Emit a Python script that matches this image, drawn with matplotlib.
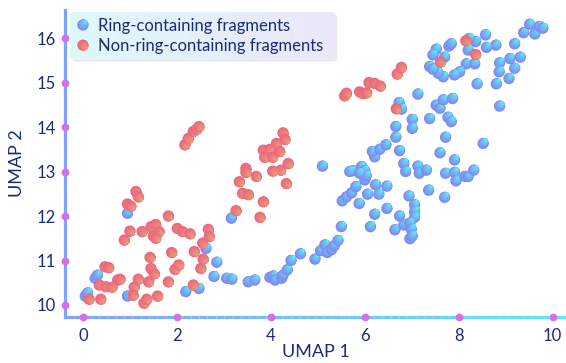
import numpy as np
import matplotlib
matplotlib.use("Agg")
import matplotlib.pyplot as plt
from matplotlib.path import Path
from matplotlib.collections import LineCollection, PathCollection
from matplotlib.legend_handler import HandlerBase
from matplotlib.colors import to_rgb
from matplotlib.patches import FancyBboxPatch
from matplotlib.transforms import IdentityTransform

plt.rcParams['font.family'] = ['Lato', 'DejaVu Sans']

# ring-containing fragments (UMAP 1, UMAP 2)
ring_x = [0.05, 0.10, 0.26, 0.31, 0.95, 0.95, 2.19, 2.47, 2.62, 2.85, 2.79, 3.06, 3.17, 3.16,
          3.52, 3.66, 3.98, 4.05, 4.09, 4.23, 4.26, 4.35, 4.43, 4.63, 4.94, 5.06, 5.15, 5.20,
          5.29, 5.35, 5.43, 5.50, 5.52, 5.61, 5.72, 5.81, 6.00, 5.88, 6.06, 6.23, 6.30, 6.47,
          6.21, 6.12, 6.47, 6.64, 6.74, 6.83, 6.94, 6.96,
          5.10, 5.75, 5.93, 6.00, 6.03, 5.89, 5.68, 6.21, 6.16, 6.32, 6.45, 6.74, 6.83, 6.87,
          7.13, 7.16, 7.31, 6.66, 6.66, 6.73, 6.78, 7.01, 7.01, 7.13, 7.38, 7.38,
          7.52, 7.60, 7.67, 7.87, 7.77, 7.84, 8.39, 8.80, 8.87, 9.07, 9.19, 8.87, 8.86, 9.09,
          9.31, 9.19, 8.79, 8.59, 8.57, 8.36, 8.22, 8.20, 8.16, 8.34, 8.02, 7.91, 7.67, 7.56,
          7.45, 7.70, 7.52, 7.45, 7.79, 7.84, 9.38, 9.51, 9.62, 9.72, 9.79,
          7.72, 8.52, 7.60, 7.91, 7.72, 7.91, 7.94, 8.13, 8.20, 8.32, 7.36, 7.70, 7.06, 7.06,
          7.06, 6.96, 6.99, 7.01]
ring_y = [10.20, 10.27, 10.60, 10.67, 10.20, 12.06, 10.30, 10.37, 11.27, 10.96, 10.64, 10.60, 10.58, 11.95,
          10.52, 10.56, 10.62, 10.65, 10.56, 10.60, 10.67, 10.79, 11.00, 11.15, 11.03, 11.22, 11.35, 11.18,
          11.24, 11.33, 11.45, 11.76, 12.34, 12.43, 12.52, 12.66, 12.81, 12.28, 12.49, 12.70, 12.49, 12.67,
          12.04, 11.76, 12.17, 11.69, 12.00, 11.80, 12.45, 11.49,
          13.12, 13.02, 13.11, 13.02, 12.90, 12.96, 13.00, 13.33, 13.45, 13.50, 13.60, 13.47, 13.18, 13.00,
          13.12, 12.96, 13.03, 13.77, 14.01, 14.55, 14.40, 14.17, 13.97, 14.74, 14.19, 15.36,
          14.49, 14.42, 14.61, 14.64, 14.22, 14.12, 14.97, 14.97, 14.47, 15.09, 15.32, 15.44, 15.24, 15.54,
          15.57, 15.87, 15.84, 15.79, 16.07, 15.92, 15.99, 15.73, 15.42, 15.42, 15.24, 15.17, 15.13, 15.21,
          15.30, 15.57, 15.75, 15.62, 15.82, 15.87, 16.12, 16.31, 16.09, 16.26, 16.22,
          13.77, 13.63, 13.42, 13.26, 12.96, 12.98, 12.79, 12.89, 12.89, 13.03, 12.58, 12.42, 12.25, 12.10,
          11.97, 11.84, 11.70, 11.55]

# non-ring-containing fragments
nonring_x = [0.13, 0.38, 0.35, 0.49, 0.47, 0.55, 0.74, 0.79, 0.62, 1.09, 1.07, 1.18, 1.30, 1.36,
             1.40, 1.45, 1.52, 1.59, 1.82, 1.43, 1.89, 1.96, 2.04, 2.35, 2.51, 2.56, 2.37, 2.55,
             2.67, 2.69, 2.01, 2.12, 2.28, 1.82, 1.26, 1.00, 0.88, 1.45, 1.55, 1.62, 1.50, 1.55,
             0.95, 1.02, 1.13, 1.18, 3.26, 3.33, 3.40,
             2.17, 2.24, 2.35, 2.42, 2.47, 4.26, 4.30, 4.12, 3.84, 3.98, 3.87, 4.04, 4.19, 4.37,
             4.21, 4.04, 4.33, 3.47, 3.47, 3.69, 3.52, 3.84, 3.77,
             5.57, 5.61, 5.89, 5.96, 6.04, 6.09, 6.21, 6.33, 6.69, 6.78, 6.67, 8.15, 8.36, 7.61]
nonring_y = [10.13, 10.13, 10.45, 10.41, 10.86, 10.84, 10.56, 10.58, 10.40, 10.40, 10.22, 10.58, 10.04, 10.13,
             10.52, 10.82, 10.70, 10.20, 10.52, 11.07, 11.18, 10.80, 10.90, 10.45, 10.82, 11.03, 11.20, 11.39,
             11.70, 11.54, 11.72, 11.65, 11.60, 12.00, 11.65, 11.66, 11.46, 11.76, 11.81, 11.65, 11.55, 11.50,
             12.27, 12.22, 12.55, 12.43, 12.12, 12.77, 12.51,
             13.60, 13.74, 13.90, 13.95, 14.01, 13.87, 13.72, 13.63, 13.48, 13.50, 13.32, 13.32, 13.45, 13.18,
             13.03, 13.01, 12.73, 13.07, 12.98, 12.89, 12.48, 12.32, 11.97,
             14.70, 14.76, 14.79, 14.75, 14.77, 15.00, 14.98, 14.92, 15.19, 15.34, 14.41, 15.94, 15.63, 15.46]

xticks = [0, 2, 4, 6, 8, 10]
yticks = [10, 11, 12, 13, 14, 15, 16]

NAVY = '#1b2b78'
DOT = '#d46eea'
LAYERS = 10
MSIZE = 66

ring_cols = ('#8088f2', '#62e6f4', (0.6, 0.8))
non_cols = ('#f0667f', '#e49e78', (0.8, -0.6))


def grad_paths(direction):
    dx, dy = direction
    out = []
    for j in range(LAYERS):
        r = 0.5 - 0.045 * j
        out.append(Path.circle((dx * (0.5 - r), dy * (0.5 - r)), r))
    return out


def grad_colors(c0, c1):
    a, b = np.array(to_rgb(c0)), np.array(to_rgb(c1))
    return np.array([a + (b - a) * t for t in np.linspace(0, 1, LAYERS)])


def grad_scatter(ax, x, y, style, z):
    c0, c1, d = style
    xs = np.repeat(x, LAYERS)
    ys = np.repeat(y, LAYERS)
    cols = np.tile(grad_colors(c0, c1), (len(x), 1))
    sc = ax.scatter(xs, ys, s=MSIZE, c=cols, linewidths=0, zorder=z)
    sc.set_paths(grad_paths(d))
    return sc


class GradHandler(HandlerBase):
    def __init__(self, style):
        super().__init__()
        self.style = style

    def create_artists(self, legend, orig_handle, xdescent, ydescent,
                       width, height, fontsize, trans):
        c0, c1, d = self.style
        cx = width / 2 - xdescent
        cy = height / 2 - ydescent
        pc = PathCollection(grad_paths(d), sizes=[MSIZE], offsets=[(cx, cy)] * LAYERS,
                            offset_transform=trans, facecolors=grad_colors(c0, c1),
                            linewidths=0)
        pc.set_transform(IdentityTransform())
        return [pc]


fig = plt.figure(figsize=(5.66, 3.63), dpi=100)
ax = fig.add_axes([0.1157, 0.1267, 0.884, 0.8457])

sc_ring = grad_scatter(ax, ring_x, ring_y, ring_cols, 3)
sc_non = grad_scatter(ax, nonring_x, nonring_y, non_cols, 3.1)

ax.set_xlim(-0.37, 10.28)
ax.set_ylim(9.73, 16.63)
ax.set_xticks(xticks)
ax.set_yticks(yticks)
ax.tick_params(length=0, labelsize=12, labelcolor=NAVY)
ax.tick_params(axis='x', pad=8)
ax.tick_params(axis='y', pad=7)
ax.set_xlabel('UMAP 1', fontsize=13, color=NAVY, labelpad=0)
ax.set_ylabel('UMAP 2', fontsize=13, color=NAVY, labelpad=8)

for s in ['top', 'right', 'bottom']:
    ax.spines[s].set_visible(False)
ax.spines['left'].set_color('#80a2ff')
ax.spines['left'].set_linewidth(2.3)

# gradient bottom axis line
n = 60
xs = np.linspace(0, 1, n + 1)
segs = [[(xs[i], 0), (xs[i + 1], 0)] for i in range(n)]
a, b = np.array(to_rgb('#82a2ff')), np.array(to_rgb('#5fe4f8'))
lc = LineCollection(segs, colors=[a + (b - a) * t for t in np.linspace(0, 1, n)],
                    linewidths=2.3, transform=ax.transAxes, clip_on=False, zorder=2.5,
                    capstyle='butt')
ax.add_collection(lc)

ax.plot(xticks, [0] * len(xticks), 'o', ms=4.6, color=DOT, transform=ax.get_xaxis_transform(),
        clip_on=False, zorder=4)
ax.plot([0] * len(yticks), yticks, 'o', ms=4.6, color=DOT, transform=ax.get_yaxis_transform(),
        clip_on=False, zorder=4)

leg = ax.legend([sc_ring, sc_non], ['Ring-containing fragments', 'Non-ring-containing fragments'],
                handler_map={sc_ring: GradHandler(ring_cols), sc_non: GradHandler(non_cols)},
                loc='upper left', bbox_to_anchor=(0.009, 0.9935), borderaxespad=0,
                frameon=False, fontsize=12, handlelength=0.85, handletextpad=0.5,
                labelspacing=0.25, borderpad=0.35)
for t in leg.get_texts():
    t.set_color(NAVY)

fig.canvas.draw()
bb = leg.get_window_extent(fig.canvas.get_renderer()).transformed(ax.transAxes.inverted())
x1 = bb.x1 + 0.012
shadow = FancyBboxPatch((bb.x0 + 0.004, bb.y0 - 0.006), x1 - bb.x0, bb.height,
                        boxstyle='round,pad=0,rounding_size=0.012', transform=ax.transAxes,
                        facecolor='#dcdcf0', edgecolor='none', alpha=0.6, zorder=4.3)
ax.add_patch(shadow)
box = FancyBboxPatch((bb.x0, bb.y0), x1 - bb.x0, bb.height,
                     boxstyle='round,pad=0,rounding_size=0.012', transform=ax.transAxes,
                     facecolor='none', edgecolor='none', zorder=4.4)
ax.add_patch(box)
g0, g1 = np.array(to_rgb('#def9fb')), np.array(to_rgb('#ebe7f8'))
grad = np.array([[g0 + (g1 - g0) * t for t in np.linspace(0, 1, 64)]])
img = ax.imshow(grad, extent=(bb.x0, x1, bb.y0, bb.y1), transform=ax.transAxes,
                aspect='auto', zorder=4.5, interpolation='bilinear')
img.set_clip_path(box)
ax.set_xlim(-0.37, 10.28)
ax.set_ylim(9.73, 16.63)

fig.savefig('out.png', dpi=100)
